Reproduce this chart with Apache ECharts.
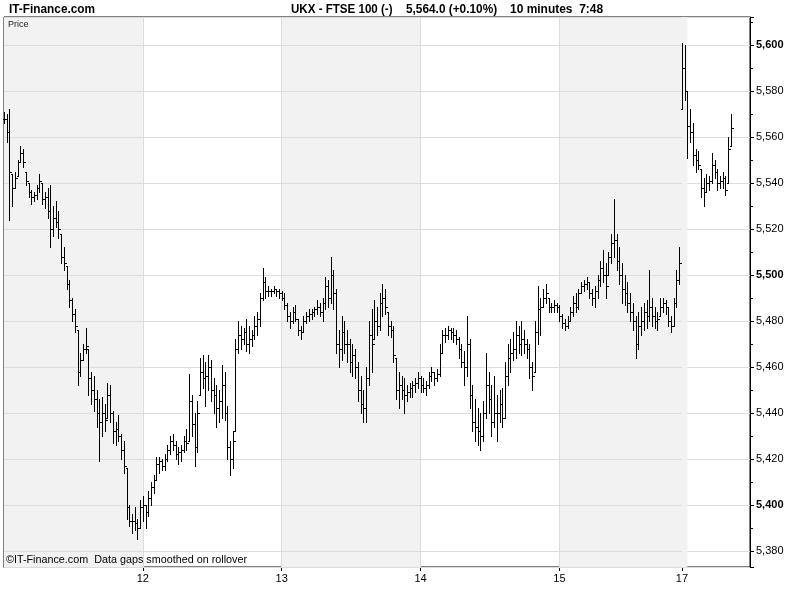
<!DOCTYPE html>
<html><head><meta charset="utf-8">
<script src="https://cdn.jsdelivr.net/npm/echarts@6/dist/echarts.min.js"></script>
<style>html,body{margin:0;padding:0;background:#fff}#c{width:800px;height:600px}</style>
</head><body><div id="c"></div>
<script>
// ---- data ----
const dayLabels = ['11', '12', '13', '14', '15', '17'];
const barsPerDay = [51, 51, 51, 51, 45, 19];
const padBars = 7;
const yTickLabels = ['5,380','5,400','5,420','5,440','5,460','5,480','5,500','5,520','5,540','5,560','5,580','5,600'];
const lastPrice = 5564.0;
const lastPriceLabel = '5,564.0';

const highs = [
 5571,5570,5572,5544,5545,5550,5556,5555,5545,5540,5537,5536,5539,5544,5540,5536,5538,5539,5530,5532,
 5528,5518,5512,5504,5498,5490,5485,5476,5466,5470,5477,5468,5458,5456,5450,5446,5447,5444,5453,5452,
 5441,5436,5439,5431,5428,5416,5400,5396,5399,5394,5402,
 5404,5400,5406,5410,5413,5421,5421,5420,5422,5426,5430,5431,5428,5425,5426,5430,5433,5457,5448,5440,
 5445,5464,5465,5462,5465,5463,5455,5452,5450,5461,5458,5443,5428,5432,5472,5480,5478,5477,5481,5478,
 5476,5482,5484,5492,5503,5499,5495,5494,5495,5494,5494,
 5493,5492,5488,5484,5486,5487,5481,5478,5482,5484,5485,5485,5486,5489,5488,5490,5499,5498,5508,5502,
 5494,5476,5482,5480,5476,5472,5470,5468,5462,5456,5450,5460,5480,5485,5489,5486,5492,5496,5494,5484,
 5480,5478,5464,5458,5456,5455,5452,5453,5454,5455,5458,
 5456,5455,5454,5458,5460,5458,5459,5470,5476,5477,5478,5477,5477,5476,5473,5470,5467,5482,5472,5452,
 5446,5442,5440,5445,5466,5458,5452,5456,5448,5450,5451,5462,5470,5472,5475,5480,5478,5480,5476,5472,
 5470,5462,5480,5495,5490,5494,5496,5490,5488,5489,5488,
 5487,5483,5481,5482,5486,5491,5492,5494,5497,5498,5499,5497,5494,5495,5500,5506,5511,5505,5510,5518,
 5533,5518,5512,5505,5500,5497,5492,5488,5482,5484,5486,5488,5489,5502,5490,5486,5484,5490,5490,5489,
 5486,5482,5490,5502,5512,
 5601,5600,5580,5572,5566,5555,5554,5546,5542,5544,5543,5553,5550,5546,5543,5545,5543,5560,5570
];
const lows = [
 5566,5558,5524,5530,5538,5543,5549,5547,5539,5534,5531,5532,5533,5536,5531,5529,5525,5512,5517,5521,
 5516,5505,5502,5494,5486,5480,5475,5452,5456,5463,5466,5448,5444,5441,5434,5419,5430,5432,5438,5436,
 5427,5426,5428,5420,5414,5394,5391,5388,5389,5385,5390,
 5393,5390,5395,5400,5405,5411,5414,5415,5415,5419,5422,5424,5420,5418,5419,5423,5424,5428,5430,5417,
 5423,5448,5451,5443,5450,5445,5440,5434,5436,5438,5437,5420,5413,5416,5432,5466,5468,5470,5467,5466,
 5469,5472,5474,5478,5489,5490,5491,5491,5492,5491,5490,
 5489,5485,5480,5477,5479,5480,5474,5472,5475,5479,5480,5481,5482,5483,5482,5480,5485,5486,5488,5485,
 5466,5460,5463,5466,5462,5458,5456,5455,5445,5440,5436,5436,5452,5458,5472,5474,5476,5482,5483,5474,
 5473,5462,5446,5442,5446,5440,5445,5447,5447,5449,5451,
 5449,5449,5448,5451,5454,5452,5454,5456,5466,5471,5472,5472,5471,5470,5464,5460,5452,5456,5442,5432,
 5428,5426,5424,5428,5438,5440,5430,5434,5428,5436,5434,5438,5452,5458,5463,5464,5466,5465,5466,5464,
 5455,5450,5458,5470,5474,5486,5488,5484,5484,5484,5484,
 5480,5477,5476,5477,5480,5482,5484,5485,5492,5493,5494,5490,5487,5486,5490,5495,5497,5490,5500,5505,
 5508,5502,5496,5488,5487,5484,5480,5476,5464,5468,5474,5476,5477,5480,5478,5477,5476,5482,5484,5483,
 5478,5475,5478,5486,5496,
 5572,5576,5551,5558,5548,5545,5546,5534,5530,5536,5537,5540,5542,5537,5538,5538,5535,5540,5556
];
const closes = [
 5568,5562,5545,5538,5542,5549,5553,5549,5541,5536,5534,5535,5538,5541,5533,5534,5528,5520,5525,5523,
 5520,5508,5505,5496,5489,5483,5478,5458,5463,5468,5469,5455,5450,5446,5440,5436,5440,5437,5448,5440,
 5432,5433,5430,5424,5417,5399,5393,5393,5392,5390,5399,
 5400,5397,5403,5408,5411,5418,5419,5417,5420,5424,5428,5426,5422,5423,5424,5428,5427,5445,5435,5425,
 5440,5458,5455,5456,5460,5450,5448,5442,5445,5452,5440,5425,5420,5428,5468,5474,5472,5475,5470,5472,
 5474,5478,5481,5490,5497,5493,5493,5493,5494,5493,5492,
 5490,5487,5482,5480,5484,5481,5476,5475,5480,5482,5483,5484,5485,5486,5484,5488,5495,5490,5500,5492,
 5470,5468,5475,5470,5470,5462,5465,5460,5450,5444,5442,5455,5474,5470,5480,5478,5488,5490,5486,5478,
 5476,5465,5450,5452,5450,5448,5449,5451,5452,5453,5455,
 5452,5451,5452,5456,5458,5455,5457,5466,5474,5474,5476,5475,5474,5472,5468,5462,5460,5470,5448,5436,
 5434,5432,5430,5440,5452,5446,5436,5440,5440,5444,5438,5456,5464,5466,5468,5474,5470,5472,5470,5468,
 5460,5456,5475,5485,5486,5490,5492,5486,5486,5487,5486,
 5482,5479,5478,5480,5484,5488,5486,5492,5495,5496,5497,5492,5490,5493,5498,5503,5500,5495,5508,5514,
 5515,5506,5500,5494,5492,5488,5484,5480,5470,5478,5480,5484,5482,5486,5482,5480,5481,5486,5488,5486,
 5480,5478,5488,5498,5505,
 5590,5580,5565,5562,5552,5550,5548,5538,5536,5540,5541,5548,5545,5540,5541,5542,5537,5555,5564
];

// ---- build categories (day + time of each 10-minute bar) ----
const categories = [];
const dayStarts = new Set();
dayLabels.forEach((d, di) => {
  dayStarts.add(categories.length);
  for (let k = 0; k < barsPerDay[di]; k++) {
    const mins = 8 * 60 + k * 10;
    const hh = String(Math.floor(mins / 60)).padStart(2, '0');
    const mm = String(mins % 60).padStart(2, '0');
    categories.push(d + ' ' + hh + ':' + mm);
  }
});
for (let k = 0; k < padBars; k++) categories.push('pad ' + k);

const ohlc = highs.map((h, i) => {
  const l = lows[i], c = closes[i];
  let o = i > 0 ? closes[i - 1] : c;
  o = Math.min(h, Math.max(l, o));
  return [i, o, h, l, c];
});

const fmt = v => String(Math.round(v)).replace(/\B(?=(\d{3})+(?!\d))/g, ',');
const sans = "'Liberation Sans', Arial, sans-serif";

function headText(txt, x, sx) {
  return { type: 'text', x: x, y: 3, scaleX: sx, z: 10,
    style: { text: txt, x: 0, y: 0, font: 'bold 13px ' + sans, fill: '#000', textVerticalAlign: 'top', textAlign: 'left' } };
}

const lastDayStart = categories.indexOf(dayLabels[dayLabels.length - 1] + ' 08:00');

const chart = echarts.init(document.getElementById('c'), null, { renderer: 'canvas' });
chart.setOption({
  animation: false,
  backgroundColor: '#fff',
  grid: { left: 4, right: 50, top: 17, bottom: 33, show: true, borderColor: '#000', borderWidth: 1, backgroundColor: 'transparent' },
  graphic: [
    headText('IT-Finance.com', 9, 0.91),
    headText('UKX - FTSE 100 (-)', 291, 0.89),
    headText('5,564.0 (+0.10%)', 406, 0.91),
    headText('10 minutes  7:48', 510, 0.92),
    { type: 'text', x: 8, y: 20, z: 10, style: { text: 'Price', x: 0, y: 0, font: '9px ' + sans, fill: '#222', textVerticalAlign: 'top' } },
    { type: 'text', x: 6, y: 554, z: 10, scaleX: 0.98, style: { text: '\u00A9IT-Finance.com  Data gaps smoothed on rollover', x: 0, y: 0, font: '11px ' + sans, fill: '#000', textVerticalAlign: 'top' } }
  ],
  xAxis: {
    type: 'category',
    data: categories,
    boundaryGap: false,
    z: 0,
    axisLine: { show: true, lineStyle: { color: '#000', width: 1 } },
    axisTick: { show: true, length: 4, lineStyle: { color: '#000' }, interval: (i) => dayStarts.has(i) && i > 0 },
    axisLabel: {
      interval: (i) => dayStarts.has(i) && i > 0,
      formatter: v => v.split(' ')[0],
      color: '#000', fontSize: 11, fontWeight: 'normal', fontFamily: sans, margin: 6
    },
    splitLine: { show: true, interval: (i) => dayStarts.has(i) && i > 0, lineStyle: { color: '#dcdcdc', width: 1 } },
    splitArea: { show: true, interval: (i) => dayStarts.has(i), areaStyle: { color: ['#f2f2f2', 'rgba(255,255,255,0)'] } }
  },
  yAxis: {
    type: 'value',
    position: 'right',
    min: 5373,
    max: 5612.2,
    splitNumber: 12,
    z: 1,
    axisLine: { show: true, lineStyle: { color: '#000', width: 1 } },
    axisTick: { show: true, length: 4, lineStyle: { color: '#000' } },
    minorTick: { show: true, splitNumber: 2, length: 3, lineStyle: { color: '#000' } },
    axisLabel: {
      showMinLabel: false, showMaxLabel: false,
      margin: 6, color: '#000', fontSize: 11, fontWeight: 'normal', fontFamily: sans,
      formatter: v => {
        const s = fmt(v);
        if (yTickLabels.indexOf(s) < 0 || Math.abs(v - Math.round(v)) > 1e-6) return '';
        return (Math.round(v) % 100 === 0) ? '{b|' + s + '}' : '{n|' + s + '}';
      },
      rich: {
        b: { fontWeight: 'bold', fontSize: 11, color: '#000', fontFamily: sans },
        n: { fontWeight: 'normal', fontSize: 11, color: '#000', fontFamily: sans }
      }
    },
    splitLine: { show: true, lineStyle: { color: '#dcdcdc', width: 1 } }
  },
  series: [{
    type: 'line',
    z: -1,
    silent: true,
    data: [],
    markArea: {
      silent: true,
      itemStyle: { color: '#f2f2f2' },
      data: [[{ xAxis: lastDayStart }, { xAxis: lastDayStart + 2 }]]
    }
  }, {
    type: 'custom',
    z: 5,
    data: ohlc,
    encode: { x: 0, y: [1, 2, 3, 4] },
    renderItem: (params, api) => {
      const x = api.value(0);
      const pH = api.coord([x, api.value(2)]);
      const pL = api.coord([x, api.value(3)]);
      const pO = api.coord([x, api.value(1)]);
      const pC = api.coord([x, api.value(4)]);
      const xi = Math.round(pH[0]);
      const yh = Math.round(pH[1]);
      let yl = Math.round(pL[1]);
      if (yl - yh < 1) yl = yh + 1;
      const yo = Math.round(pO[1]), yc = Math.round(pC[1]);
      const st = { fill: '#000' };
      return {
        type: 'group',
        children: [
          { type: 'rect', shape: { x: xi, y: yh, width: 1, height: yl - yh + 1 }, style: st },
          { type: 'rect', shape: { x: xi - 1, y: yo, width: 1, height: 1 }, style: st },
          { type: 'rect', shape: { x: xi + 1, y: yc, width: 2, height: 1 }, style: st }
        ]
      };
    },
    markLine: {
      silent: true,
      symbol: 'none',
      animation: false,
      lineStyle: { opacity: 0 },
      data: [{ yAxis: lastPrice }],
      label: {
        show: true, position: 'end', distance: 2, formatter: lastPriceLabel,
        color: '#000', fontSize: 11, fontFamily: sans,
        backgroundColor: '#ffcc00', borderColor: '#000', borderWidth: 1, padding: [1, 1, 0, 1]
      }
    }
  }]
});
</script>
</body></html>
